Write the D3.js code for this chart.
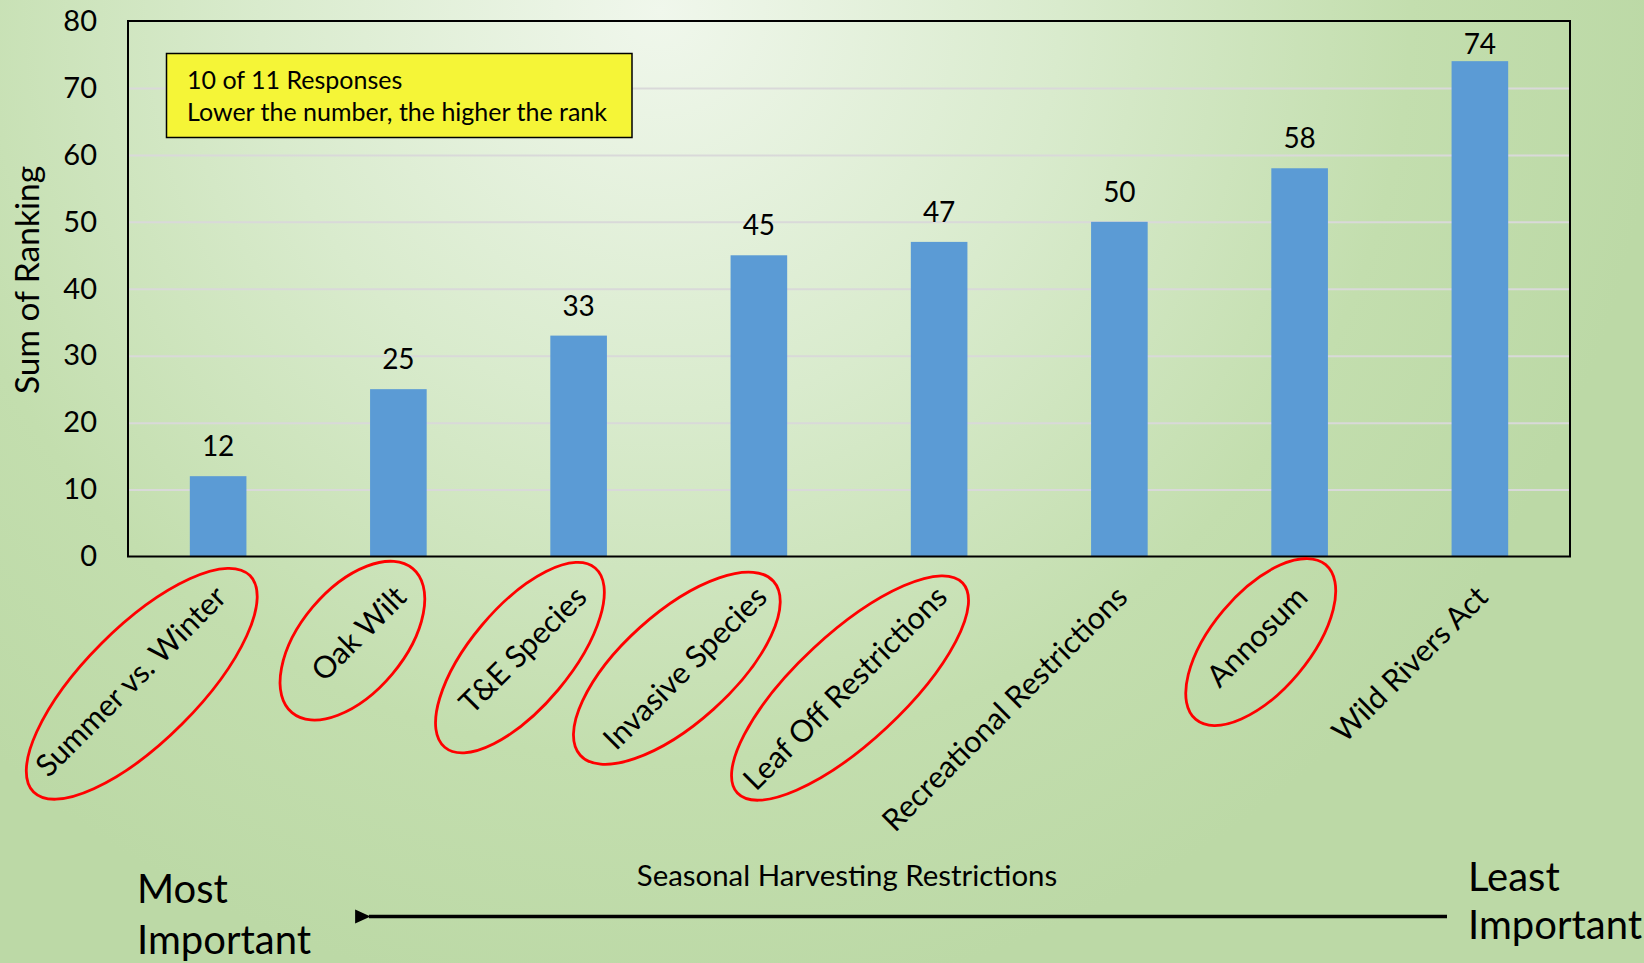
<!doctype html>
<html lang="en">
<head>
<meta charset="UTF-8">
<title>Seasonal Harvesting Restrictions - Sum of Ranking</title>
<script src="https://d3js.org/d3.v7.min.js"></script>
<style>
  html, body { margin: 0; padding: 0; overflow: hidden; }
  svg { display: block; font-family: Lato, "Open Sans", sans-serif; }
</style>
</head>
<body>
<svg id="chart" width="1644" height="963"></svg>
<script>
// ---- data ----
const categories = ["Summer vs. Winter", "Oak Wilt", "T&E Species", "Invasive Species",
  "Leaf Off Restrictions", "Recreational Restrictions", "Annosum", "Wild Rivers Act"];
const rankSums = [12, 25, 33, 45, 47, 50, 58, 74];
const yTicks = [0, 10, 20, 30, 40, 50, 60, 70, 80];
const noteLines = ["10 of 11 Responses", "Lower the number, the higher the rank"];
const circled = ["Summer vs. Winter", "Oak Wilt", "T&E Species", "Invasive Species",
  "Leaf Off Restrictions", "Annosum"];

// hand drawn red rings, in the rotated label frame (origin = tick under the axis)
const rings = {
  "Summer vs. Winter":     { u: -144, v: 36, rx: 153, ry: 57, rot: 0 },
  "Oak Wilt":              { u: -92,  v: 27, rx: 94,  ry: 52, rot: -5 },
  "T&E Species":           { u: -113, v: 30, rx: 117, ry: 50, rot: -5 },
  "Invasive Species":      { u: -137, v: 21, rx: 130, ry: 55, rot: 3 },
  "Leaf Off Restrictions": { u: -156, v: 30, rx: 154, ry: 54, rot: 2 },
  "Annosum":               { u: -88,  v: 33, rx: 101, ry: 49, rot: -5 }
};

// ---- layout ----
const W = 1644, H = 963;
const plot = { left: 128, right: 1570, top: 21, bottom: 556.5 };
const BAR_COLOR = "#5b9bd5";

const svg = d3.select("#chart");

// background: light glow at the top centre fading into green
const defs = svg.append("defs");
const grad = defs.append("radialGradient")
  .attr("id", "bg").attr("gradientUnits", "userSpaceOnUse")
  .attr("cx", 660).attr("cy", 10).attr("r", 1000);
grad.append("stop").attr("offset", 0).attr("stop-color", "#f0f7ec");
grad.append("stop").attr("offset", 0.4).attr("stop-color", "#d9ebcd");
grad.append("stop").attr("offset", 0.75).attr("stop-color", "#c3deae");
grad.append("stop").attr("offset", 1).attr("stop-color", "#bcd9a6");

defs.append("marker").attr("id", "head")
  .attr("viewBox", "0 0 10 10").attr("refX", 1).attr("refY", 5)
  .attr("markerWidth", 4.4).attr("markerHeight", 4.4).attr("orient", "auto-start-reverse")
  .append("path").attr("d", "M0,5 L10,0.5 L10,9.5 Z").attr("fill", "#000");

svg.append("rect").attr("width", W).attr("height", H).attr("fill", "url(#bg)");

// scales
const x = d3.scaleBand()
  .domain(categories)
  .range([plot.left, plot.right])
  .paddingInner(0.686)
  .paddingOuter(0.343);

const y = d3.scaleLinear()
  .domain([0, 80])
  .range([plot.bottom, plot.top]);

// gridlines
svg.append("g")
  .attr("transform", `translate(${plot.left},0)`)
  .call(d3.axisLeft(y).tickValues(yTicks.filter(d => d > 0 && d < 80)).tickSize(-(plot.right - plot.left)).tickFormat(""))
  .call(g => g.select(".domain").remove())
  .selectAll("line").attr("stroke", "#d9d9d9").attr("stroke-width", 2);

// y tick labels
svg.append("g")
  .attr("transform", `translate(${plot.left},0)`)
  .call(d3.axisLeft(y).tickValues(yTicks).tickSize(0).tickPadding(31))
  .call(g => g.select(".domain").remove())
  .selectAll("text")
  .attr("font-family", "Lato, sans-serif").attr("font-size", 29).attr("fill", "#000");

// bars
svg.append("g").selectAll("rect")
  .data(rankSums)
  .join("rect")
  .attr("x", (d, i) => x(categories[i]))
  .attr("y", d => y(d))
  .attr("width", x.bandwidth())
  .attr("height", d => y(0) - y(d))
  .attr("fill", BAR_COLOR);

// value labels (Excel keeps the tallest one inside the plot)
svg.append("g").selectAll("text")
  .data(rankSums)
  .join("text")
  .attr("x", (d, i) => x(categories[i]) + x.bandwidth() / 2)
  .attr("y", d => Math.max(y(d) - 20, plot.top + 33))
  .attr("text-anchor", "middle")
  .attr("font-size", 28)
  .text(d => d);

// plot frame
svg.append("rect")
  .attr("x", plot.left).attr("y", plot.top)
  .attr("width", plot.right - plot.left).attr("height", plot.bottom - plot.top)
  .attr("fill", "none").attr("stroke", "#000").attr("stroke-width", 2);

// rotated category labels + red rings
const cats = svg.append("g").selectAll("g")
  .data(categories)
  .join("g")
  .attr("transform", d => `translate(${x(d) + x.bandwidth() / 2},${plot.bottom}) rotate(-45)`);

cats.append("text")
  .attr("x", -23).attr("y", 37)
  .attr("text-anchor", "end")
  .attr("font-size", 30.5)
  .text(d => d);

cats.filter(d => circled.includes(d))
  .append("ellipse")
  .attr("transform", d => `translate(${rings[d].u},${rings[d].v}) rotate(${rings[d].rot})`)
  .attr("rx", d => rings[d].rx)
  .attr("ry", d => rings[d].ry)
  .attr("fill", "none")
  .attr("stroke", "#ff0000")
  .attr("stroke-width", 2.8);

// y axis title
svg.append("text")
  .attr("transform", "translate(39,280) rotate(-90)")
  .attr("text-anchor", "middle")
  .attr("font-size", 33.5)
  .text("Sum of Ranking");

// note box
const note = svg.append("g");
note.append("rect")
  .attr("x", 166.5).attr("y", 53.5).attr("width", 465.5).attr("height", 84)
  .attr("fill", "#f5f537").attr("stroke", "#000").attr("stroke-width", 1.5);
note.selectAll("text")
  .data(noteLines)
  .join("text")
  .attr("x", 187)
  .attr("y", (d, i) => 89 + i * 31.5)
  .attr("font-size", 25)
  .text(d => d);

// x axis title and importance arrow
svg.append("text")
  .attr("x", 847).attr("y", 886)
  .attr("text-anchor", "middle")
  .attr("font-size", 29.4)
  .text("Seasonal Harvesting Restrictions");

svg.append("line")
  .attr("x1", 1447).attr("y1", 916.5)
  .attr("x2", 369).attr("y2", 916.5)
  .attr("stroke", "#000").attr("stroke-width", 3.5)
  .attr("marker-end", "url(#head)");

const mostText = svg.append("text").attr("font-size", 40);
mostText.append("tspan").attr("x", 137).attr("y", 903).text("Most");
mostText.append("tspan").attr("x", 137).attr("y", 954).text("Important");

const leastText = svg.append("text").attr("font-size", 40);
leastText.append("tspan").attr("x", 1468).attr("y", 891).text("Least");
leastText.append("tspan").attr("x", 1468).attr("y", 939).text("Important");
</script>
</body>
</html>
